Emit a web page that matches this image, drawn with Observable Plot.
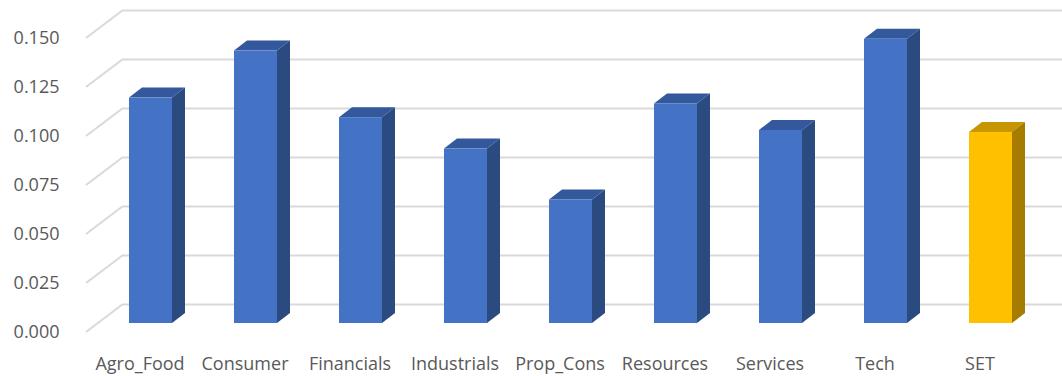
<!DOCTYPE html>
<html>
<head>
<meta charset="utf-8">
<script src="https://cdn.jsdelivr.net/npm/d3@7"></script>
<script src="https://cdn.jsdelivr.net/npm/@observablehq/plot@0.6"></script>
<style>
  html, body { margin: 0; padding: 0; background: #ffffff; }
  #chart svg { display: block; }
</style>
</head>
<body>
<div id="chart"></div>
<script>
// ---- data ----
const categories = ["Agro_Food", "Consumer", "Financials", "Industrials", "Prop_Cons", "Resources", "Services", "Tech", "SET"];
const values = [0.115, 0.139, 0.105, 0.089, 0.063, 0.112, 0.0985, 0.145, 0.0975];
const yTicks = [0, 0.025, 0.05, 0.075, 0.1, 0.125, 0.15];
const highlight = "SET";

const data = categories.map((c, i) => ({category: c, value: values[i]}));

// ---- style / geometry ----
const W = 1062, H = 376;
const gridColor = "#d9d9d9";
const textColor = "#595959";
const barDX = 13, barDY = -10;       // bar depth (pixels)
const wallDX = 37, wallDY = -28;     // floor depth (pixels)
const frontOff = 9;                  // front edge below bar plane
const backOff = frontOff + wallDY;   // back wall relative to bar plane

const colors = {
  normal: {front: "#4472C4", top: "#34589c", side: "#2b4a80"},
  highlight: {front: "#FFC000", top: "#c79500", side: "#a67c00"}
};
const pal = d => d.category === highlight ? colors.highlight : colors.normal;

// diagonal floor lines from front edge to back wall
const diagonals = Plot.ruleY(yTicks, {
  y: d => d,
  render(index, scales, values, dim) {
    const g = d3.create("svg:g");
    for (const i of index) {
      const y = scales.y(yTicks[i]);
      g.append("line")
        .attr("x1", dim.marginLeft).attr("y1", y + frontOff)
        .attr("x2", dim.marginLeft + wallDX).attr("y2", y + backOff)
        .attr("stroke", gridColor).attr("stroke-width", 2);
    }
    return g.node();
  }
});

// 3D bars: front face by Plot, top and side faces from the same scales
const bars = Plot.barY(data, {
  x: "category",
  y: "value",
  fill: d => pal(d).front,
  render(index, scales, values, dim, ctx, next) {
    const g = d3.create("svg:g");
    const bw = scales.x.bandwidth ? scales.x.bandwidth() : 43;
    for (const i of index) {
      const d = data[i];
      const p = pal(d);
      const x0 = scales.x(d.category), x1 = x0 + bw;
      const yt = scales.y(d.value), yb = scales.y(0);
      g.append("polygon")
        .attr("points", [[x0, yt], [x1, yt], [x1 + barDX, yt + barDY], [x0 + barDX, yt + barDY]].map(q => q.join(",")).join(" "))
        .attr("fill", p.top);
      g.append("polygon")
        .attr("points", [[x1, yt], [x1 + barDX, yt + barDY], [x1 + barDX, yb + barDY], [x1, yb]].map(q => q.join(",")).join(" "))
        .attr("fill", p.side);
    }
    const front = next(index, scales, values, dim, ctx);
    g.node().appendChild(front);
    return g.node();
  }
});

const chart = Plot.plot({
  width: W,
  height: H,
  marginLeft: 86,
  marginRight: 0,
  marginTop: 29,
  marginBottom: 53,
  style: {fontFamily: "'Open Sans', 'DejaVu Sans', sans-serif", fontSize: "18px", background: "#ffffff", overflow: "visible"},
  x: {type: "band", domain: categories, range: [129, 1012], paddingInner: 0.5905, paddingOuter: 0, label: null},
  y: {domain: [0, 0.15], range: [323, 29], label: null},
  marks: [
    Plot.ruleY(yTicks, {y: d => d, dy: backOff, insetLeft: wallDX, stroke: gridColor, strokeWidth: 2}),
    diagonals,
    bars,
    Plot.axisY(yTicks, {anchor: "left", tickSize: 0, tickPadding: 27, dy: frontOff, tickFormat: d3.format(".3f"), color: textColor, fontSize: 18, label: null}),
    Plot.axisX({anchor: "bottom", tickSize: 0, tickPadding: 34, dx: -11, color: textColor, fontSize: 18, label: null})
  ]
});

document.getElementById("chart").appendChild(chart);
</script>
</body>
</html>
